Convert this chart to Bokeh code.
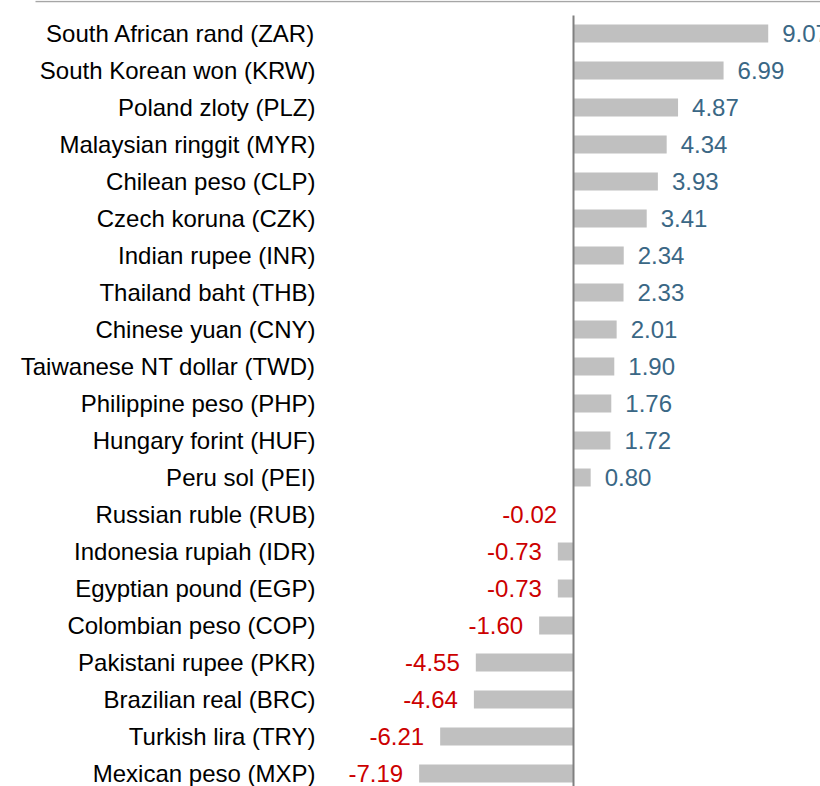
from bokeh.plotting import figure
from bokeh.models import Range1d, ColumnDataSource
from bokeh.embed import file_html
from bokeh.resources import INLINE
from bokeh.core.properties import value

categories = [
    "South African rand (ZAR)", "South Korean won (KRW)", "Poland zloty (PLZ)",
    "Malaysian ringgit (MYR)", "Chilean peso (CLP)", "Czech koruna (CZK)",
    "Indian rupee (INR)", "Thailand baht (THB)", "Chinese yuan (CNY)",
    "Taiwanese NT dollar (TWD)", "Philippine peso (PHP)", "Hungary forint (HUF)",
    "Peru sol (PEI)", "Russian ruble (RUB)", "Indonesia rupiah (IDR)",
    "Egyptian pound (EGP)", "Colombian peso (COP)", "Pakistani rupee (PKR)",
    "Brazilian real (BRC)", "Turkish lira (TRY)", "Mexican peso (MXP)",
]
values = [9.07, 6.99, 4.87, 4.34, 3.93, 3.41, 2.34, 2.33, 2.01, 1.90, 1.76,
          1.72, 0.80, -0.02, -0.73, -0.73, -1.60, -4.55, -4.64, -6.21, -7.19]

W, H = 820, 786
PX_PER_UNIT = 21.47
ZERO_PX = 573
ROW0_PX = 33
ROW_PX = 37

idx = list(range(len(categories)))
pos_src = ColumnDataSource(dict(
    y=[i for i, v in zip(idx, values) if v >= 0],
    v=[v for v in values if v >= 0],
    t=["%.2f" % v for v in values if v >= 0],
))
neg_src = ColumnDataSource(dict(
    y=[i for i, v in zip(idx, values) if v < 0],
    v=[v for v in values if v < 0],
    t=["%.2f" % v for v in values if v < 0],
))
cat_src = ColumnDataSource(dict(y=idx, t=categories))

x_range = Range1d(-ZERO_PX / PX_PER_UNIT, (W - ZERO_PX) / PX_PER_UNIT)
y_range = Range1d((H - ROW0_PX) / ROW_PX, -ROW0_PX / ROW_PX)

p = figure(width=W, height=H, x_range=x_range, y_range=y_range,
           output_backend="svg", toolbar_location=None, min_border=0,
           outline_line_color=None, background_fill_color="white")
p.axis.visible = False
p.grid.visible = False

font = value("Liberation Sans")

# bars
p.hbar(y="y", left=0, right="v", height=0.486, source=pos_src,
       fill_color="#c0c0c0", line_color=None)
p.hbar(y="y", left=0, right="v", height=0.486, source=neg_src,
       fill_color="#c0c0c0", line_color=None)

# top rule and zero line
top_y = -ROW0_PX / ROW_PX + 1.0 / ROW_PX
p.segment(x0=[(35 - ZERO_PX) / PX_PER_UNIT], x1=[(W - ZERO_PX) / PX_PER_UNIT],
          y0=[top_y], y1=[top_y], line_color="#a6a6a6", line_width=1.5)
p.segment(x0=[0], x1=[0], y0=[(15 - ROW0_PX) / ROW_PX], y1=[(H - ROW0_PX) / ROW_PX],
          line_color="#808080", line_width=2)

# category labels
p.text(x=(315 - ZERO_PX) / PX_PER_UNIT, y="y", text="t", source=cat_src,
       text_align="right", text_baseline="middle", text_font=font,
       text_font_size="24px", text_color="#000000")

# value labels
p.text(x="v", y="y", text="t", source=pos_src, x_offset=14,
       text_align="left", text_baseline="middle", text_font=font,
       text_font_size="24px", text_color="#3a6785")
p.text(x="v", y="y", text="t", source=neg_src, x_offset=-16,
       text_align="right", text_baseline="middle", text_font=font,
       text_font_size="24px", text_color="#cc0000")

open("out.html", "w").write(file_html(p, INLINE))
